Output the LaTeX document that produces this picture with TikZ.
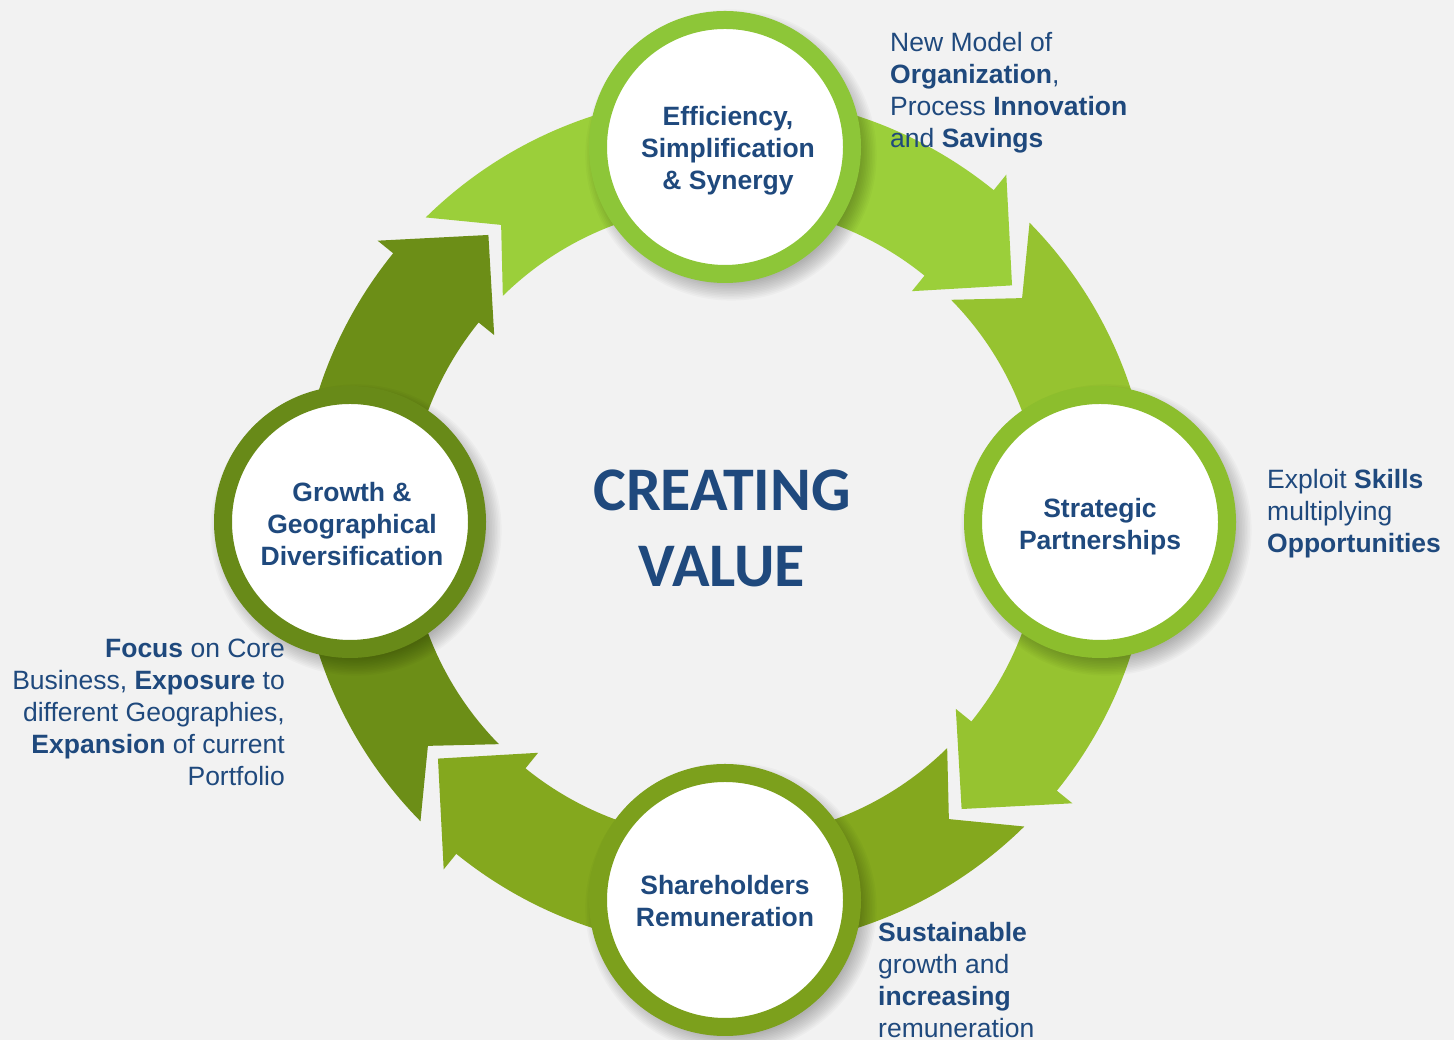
\documentclass[tikz,border=0pt]{standalone}
\usepackage{fontspec}
\setmainfont{Liberation Sans}
\newfontfamily\carlitofont{Carlito}

\definecolor{bg}{RGB}{242,242,242}
\definecolor{txt}{RGB}{31,73,125}
\definecolor{gA}{RGB}{155,207,58}
\definecolor{gAring}{RGB}{141,198,56}
\definecolor{gB}{RGB}{150,195,48}
\definecolor{gBring}{RGB}{140,190,45}
\definecolor{gC}{RGB}{132,168,30}
\definecolor{gCring}{RGB}{124,160,28}
\definecolor{gD}{RGB}{108,142,23}
\definecolor{gDring}{RGB}{104,138,24}

\tikzset{
  stage/.style={circle, draw=#1, line width=18pt, fill=white, minimum size=254pt,
    inner sep=0pt},
  stagetext/.style={align=center, text=txt, inner sep=0pt,
    font=\bfseries\fontsize{26.5}{32}\selectfont},
  note/.style={font=\fontsize{26.5}{32}\selectfont, text=txt, inner sep=0pt},
  cyclearrow/.style={fill=#1},
  softshadow/.style={fill=black, fill opacity=0.022}
}

\begin{document}
\begin{tikzpicture}[x=1pt,y=1pt]
\fill[bg] (0,0) rectangle (1454,1040);
\useasboundingbox (0,0) rectangle (1454,1040);

\begin{scope}[shift={(725,518)}]
  \foreach \r/\c in {0/gA, -90/gB, -180/gC, -270/gD}{
    \fill[cyclearrow=\c, rotate=\r]
      (134.5:427) arc[start angle=134.5, end angle=51, radius=427]
      -- (51:447) -- (39.5:372) -- (51:297) -- (51:317)
      arc[start angle=51, end angle=134.5, radius=317]
      -- (127:372) -- cycle;
  }
  % soft shadows under the circles
  \foreach \p in {(90:375), (0:375), (-90:378), (180:375)}{
    \foreach \k in {0,...,11}{
      \fill[softshadow] \p ++(6,-8) circle[radius=128+1.6*\k];
    }
  }
  \node[stage=gAring] (top) at (90:375) {};
  \node[stage=gBring] (right) at (0:375) {};
  \node[stage=gCring] (bottom) at (-90:378) {};
  \node[stage=gDring] (left) at (180:375) {};
\end{scope}

\node[stagetext] (toptext) at ([shift={(3,-4)}]top.center) {Efficiency,\\Simplification\\\&~Synergy};
\node[stagetext] (righttext) at ([shift={(0,-5)}]right.center) {Strategic\\Partnerships};
\node[stagetext] (bottomtext) at ([shift={(0,-1)}]bottom.center) {Shareholders\\Remuneration};
\node[stagetext] (lefttext) at ([shift={(2,-2)}]left.center) {Growth \&\\Geographical\\Diversification};

\node[text=txt, align=center, inner sep=0pt,
  font=\carlitofont\bfseries\fontsize{62}{76}\selectfont] (cv) at (722,512) {CREATING\\VALUE};

\node[note, anchor=north west, align=left] (ntop) at (890,1008)
  {New Model of\\\textbf{Organization},\\Process \textbf{Innovation}\\and \textbf{Savings}};
\node[note, anchor=north west, align=left] (nright) at (1267,571)
  {Exploit \textbf{Skills}\\multiplying\\\textbf{Opportunities}};
\node[note, anchor=north east, align=right] (nleft) at (285,401)
  {\textbf{Focus} on Core\\Business, \textbf{Exposure} to\\different Geographies,\\\textbf{Expansion} of current\\Portfolio};
\node[note, anchor=north west, align=left] (nbottom) at (878,118)
  {\textbf{Sustainable}\\growth and\\\textbf{increasing}\\remuneration};
\end{tikzpicture}
\end{document}
